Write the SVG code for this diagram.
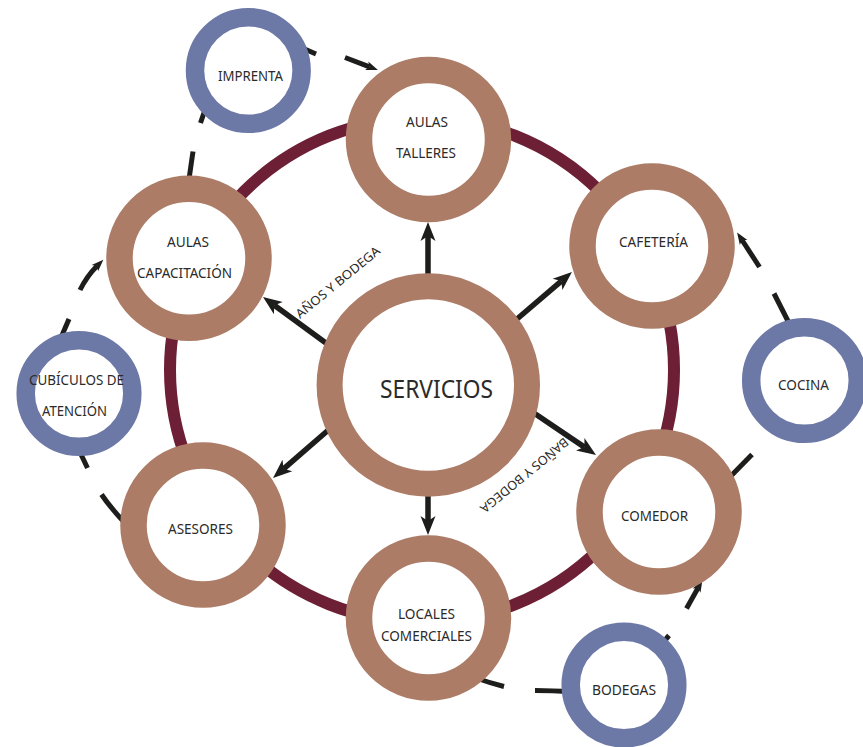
<svg xmlns="http://www.w3.org/2000/svg" width="863" height="747" viewBox="0 0 863 747">
  <defs>
    <style>
      .hub { fill: #ffffff; stroke: #ac7c67; stroke-width: 26; }
      .main { fill: #ffffff; stroke: #ac7c67; stroke-width: 26.5; }
      .aux { fill: #ffffff; stroke: #6c78a6; stroke-width: 18.5; }
      .lbl { font-family: "Noto Sans", "Open Sans", "DejaVu Sans", sans-serif; font-size: 15px; fill: #2b2a29; text-anchor: middle; }
      .big { font-size: 25px; }
      .tag { font-family: "Noto Sans", "Open Sans", "DejaVu Sans", sans-serif; font-size: 12.5px; fill: #2b2a29; }
      .flow { fill: none; stroke: #1d1d1b; stroke-width: 5.5; }
      .link { fill: none; stroke: #1d1d1b; stroke-width: 5; }
    </style>
    <marker id="head" viewBox="-6 -8 21 16" markerWidth="21" markerHeight="16" refX="0" refY="0" orient="auto" markerUnits="userSpaceOnUse">
      <path d="M14,0 L-5,-7.5 L0,0 L-5,7.5 Z" fill="#1d1d1b"/>
    </marker>
    <marker id="tip" viewBox="-4 -6 14 12" markerWidth="14" markerHeight="12" refX="0" refY="0" orient="auto" markerUnits="userSpaceOnUse">
      <path d="M9,0 L-3,-4.5 L0,0 L-3,4.5 Z" fill="#1d1d1b"/>
    </marker>
  </defs>

  <!-- ring joining the main spaces -->
  <circle id="ring" cx="422" cy="370" r="252" fill="none" stroke="#6d1f35" stroke-width="12"/>

  <g id="connectors">
    <!-- solid arrows out of the hub -->
    <line class="flow" x1="428" y1="290" x2="428" y2="236" marker-end="url(#head)"/>
    <line class="flow" x1="330" y1="346" x2="274.3" y2="305.2" marker-end="url(#head)"/>
    <line class="flow" x1="510" y1="325" x2="561.3" y2="281.1" marker-end="url(#head)"/>
    <line class="flow" x1="528" y1="409" x2="584.4" y2="447.1" marker-end="url(#head)"/>
    <line class="flow" x1="428" y1="485" x2="428" y2="521" marker-end="url(#head)"/>
    <line class="flow" x1="333" y1="426" x2="283.6" y2="468.8" marker-end="url(#head)"/>

    <!-- dashed links between the satellite spaces -->
    <path class="link" d="M300,47 L316,54"/>
    <path class="link" d="M345,57.5 L369.5,66.8" marker-end="url(#tip)"/>

    <path class="link" d="M207,104 L200.5,123"/>
    <path class="link" d="M193,151.5 L188,186"/>

    <path class="link" d="M60,340 L69,319"/>
    <path class="link" d="M80,290 Q87,276 97,266" marker-end="url(#tip)"/>

    <path class="link" d="M77,446 L87.5,468"/>
    <path class="link" d="M101.5,494.5 Q110,507 124,522"/>

    <path class="link" d="M791,327 L774,293.5"/>
    <path class="link" d="M759.5,267 L742,240" marker-end="url(#tip)"/>

    <path class="link" d="M752,454.5 L728,479"/>

    <path class="link" d="M660,646 L669,635.5"/>
    <path class="link" d="M686.5,608.5 L698,588" marker-end="url(#tip)"/>

    <path class="link" d="M572,692 Q552,690.5 535,690.5"/>
    <path class="link" d="M504,686.5 Q490,683 476,678"/>

    <!-- labels along the hub arrows -->
    <text class="tag" transform="translate(300,319) rotate(-39.4)" textLength="105" lengthAdjust="spacingAndGlyphs">AÑOS Y BODEGA</text>
    <text class="tag" transform="translate(564,437) rotate(140.5)" textLength="110" lengthAdjust="spacingAndGlyphs">BAÑOS Y BODEGA</text>
  </g>

  <g id="n-servicios">
    <circle class="hub" cx="428.3" cy="385" r="98.7"/>
    <text class="lbl big" x="436.5" y="398" textLength="113" lengthAdjust="spacingAndGlyphs">SERVICIOS</text>
  </g>

  <g id="n-aulas-talleres">
    <circle class="main" cx="428.5" cy="139.5" r="69.5"/>
    <text class="lbl" x="427" y="127.3" textLength="42" lengthAdjust="spacingAndGlyphs">AULAS</text>
    <text class="lbl" x="426" y="158.3" textLength="60" lengthAdjust="spacingAndGlyphs">TALLERES</text>
  </g>

  <g id="n-cafeteria">
    <circle class="main" cx="652" cy="246" r="69.5"/>
    <text class="lbl" x="653.5" y="246.7" textLength="69" lengthAdjust="spacingAndGlyphs">CAFETERÍA</text>
  </g>

  <g id="n-comedor">
    <circle class="main" cx="659" cy="512" r="69.5"/>
    <text class="lbl" x="654.5" y="520.7" textLength="67" lengthAdjust="spacingAndGlyphs">COMEDOR</text>
  </g>

  <g id="n-locales">
    <circle class="main" cx="428.5" cy="618" r="69.5"/>
    <text class="lbl" x="426.5" y="618.7" textLength="57" lengthAdjust="spacingAndGlyphs">LOCALES</text>
    <text class="lbl" x="426.5" y="641.3" textLength="91" lengthAdjust="spacingAndGlyphs">COMERCIALES</text>
  </g>

  <g id="n-asesores">
    <circle class="main" cx="203" cy="525" r="69.5"/>
    <text class="lbl" x="200.5" y="533.7" textLength="65" lengthAdjust="spacingAndGlyphs">ASESORES</text>
  </g>

  <g id="n-aulas-capacitacion">
    <circle class="main" cx="189" cy="258.3" r="69.5"/>
    <text class="lbl" x="188" y="246.7" textLength="42" lengthAdjust="spacingAndGlyphs">AULAS</text>
    <text class="lbl" x="184.5" y="277.7" textLength="95" lengthAdjust="spacingAndGlyphs">CAPACITACIÓN</text>
  </g>

  <g id="n-imprenta">
    <circle class="aux" cx="248.3" cy="70.5" r="53.3"/>
    <text class="lbl" x="250.5" y="80.5" textLength="65" lengthAdjust="spacingAndGlyphs">IMPRENTA</text>
  </g>

  <g id="n-cubiculos">
    <circle class="aux" cx="79" cy="393.5" r="53.3"/>
    <text class="lbl" x="76.5" y="385.3" textLength="95" lengthAdjust="spacingAndGlyphs">CUBÍCULOS DE</text>
    <text class="lbl" x="74.5" y="416.3" textLength="65" lengthAdjust="spacingAndGlyphs">ATENCIÓN</text>
  </g>

  <g id="n-cocina">
    <circle class="aux" cx="804.5" cy="380.5" r="53.3"/>
    <text class="lbl" x="803.5" y="390.3" textLength="51" lengthAdjust="spacingAndGlyphs">COCINA</text>
  </g>

  <g id="n-bodegas">
    <circle class="aux" cx="624" cy="685" r="53.3"/>
    <text class="lbl" x="624" y="694.7" textLength="64" lengthAdjust="spacingAndGlyphs">BODEGAS</text>
  </g>
</svg>
